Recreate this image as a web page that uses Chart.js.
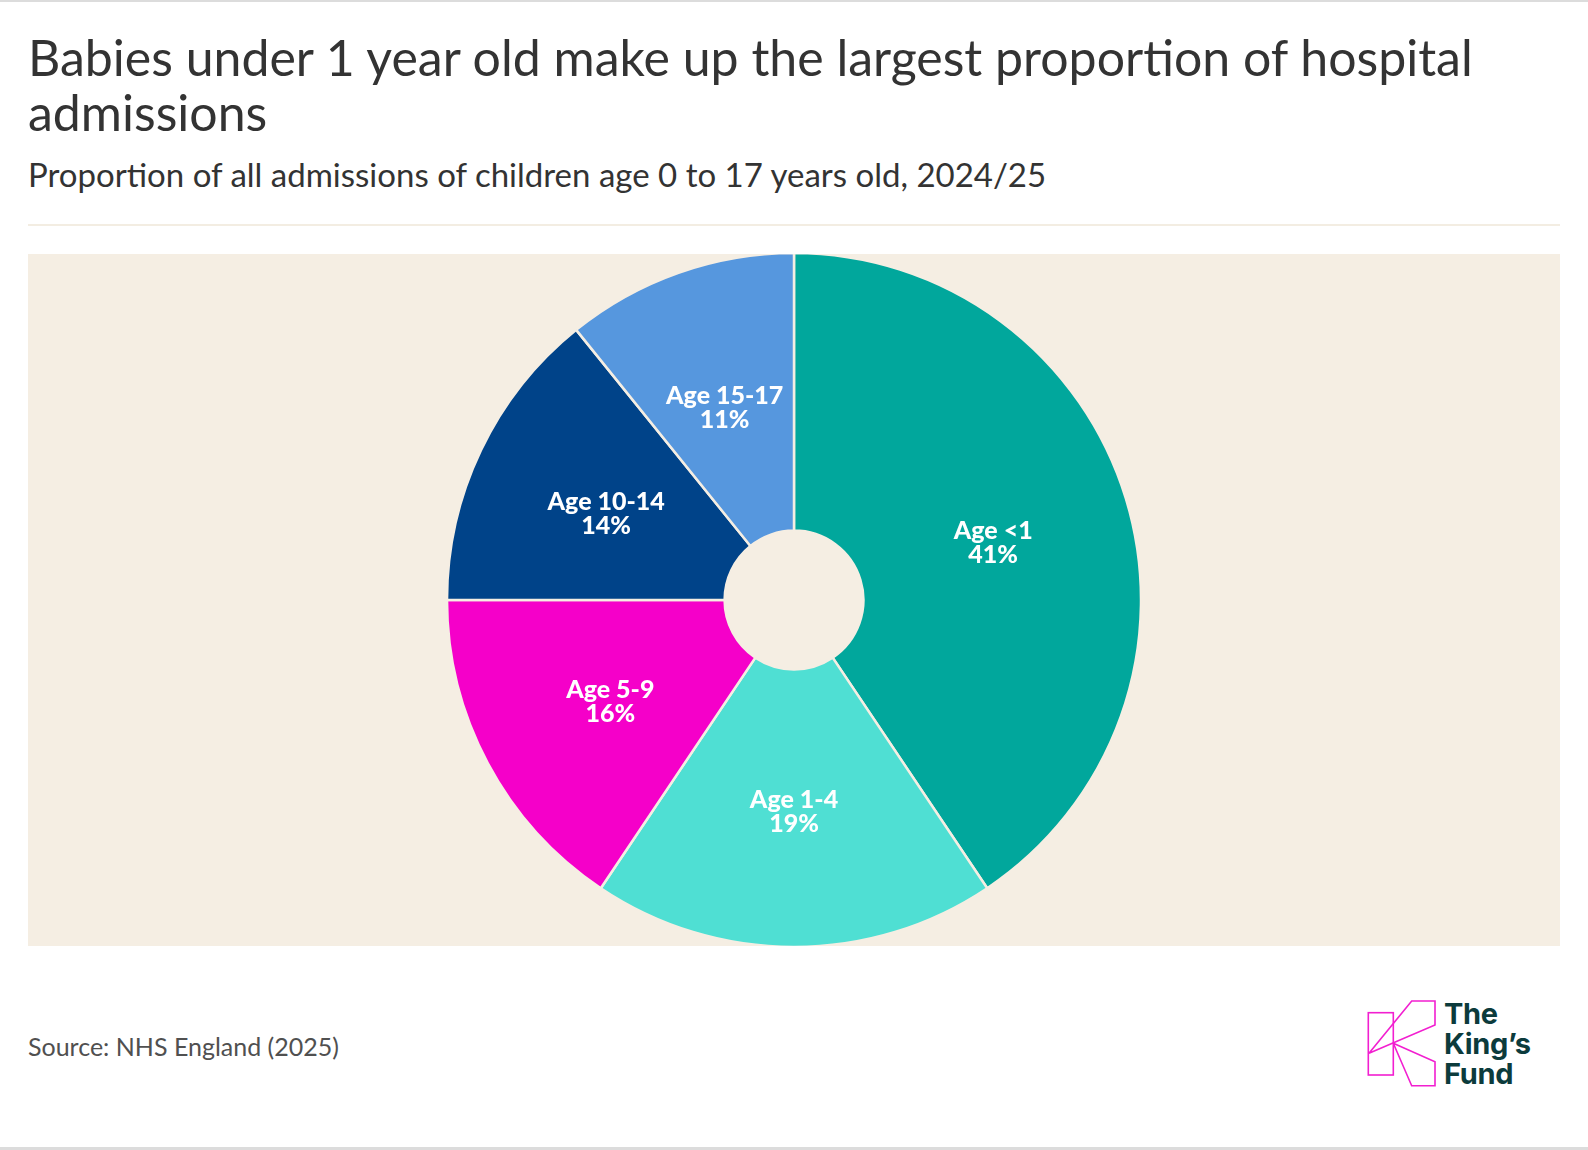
<!DOCTYPE html>
<html>
<head>
<meta charset="utf-8">
<script src="https://cdn.jsdelivr.net/npm/chart.js@4.4.1/dist/chart.umd.min.js"></script>
<style>
  html, body { margin: 0; padding: 0; background: #fff; }
  body { width: 1588px; height: 1150px; position: relative; overflow: hidden; font-family: Lato, "Noto Sans", sans-serif; }
  .topline { position: absolute; left: 0; top: 0; width: 1588px; height: 2px; background: #dcdcdc; }
  .bottomline { position: absolute; left: 0; top: 1147px; width: 1588px; height: 3px; background: #dcdcdc; }
  h1 { position: absolute; left: 28px; top: 30px; width: 1540px; margin: 0; font-weight: 400; font-size: 50px; line-height: 55px; color: #333; }
  .sub { position: absolute; left: 28px; top: 154px; margin: 0; font-size: 33px; color: #333; white-space: nowrap; }
  .divider { position: absolute; left: 28px; top: 224px; width: 1532px; height: 2px; background: #f3ede2; }
  .chartbox { position: absolute; left: 28px; top: 254px; width: 1532px; height: 692px; background: #f5eee3; }
  .source { position: absolute; left: 28px; top: 1031px; font-size: 25px; color: #505050; white-space: nowrap; }
  .logo { position: absolute; left: 1360px; top: 995px; }
  .logo-text { position: absolute; left: 1444px; top: 999px; font-family: Inter, Lato, sans-serif; font-weight: 700; font-size: 29px; line-height: 30px; color: #0c3b3c; letter-spacing: -0.3px; }
</style>
</head>
<body>
<div class="topline"></div>
<h1>Babies under 1 year old make up the largest proportion of hospital admissions</h1>
<div class="sub">Proportion of all admissions of children age 0 to 17 years old, 2024/25</div>
<div class="divider"></div>
<div class="chartbox"><canvas id="chart-div"></canvas></div>
<div class="source">Source: NHS England (2025)</div>
<svg class="logo" width="80" height="100" viewBox="0 0 80 100">
  <g fill="none" stroke="#f21fd0" stroke-width="1.6" stroke-linejoin="miter">
    <rect x="8.3" y="17.7" width="25" height="62.3"/>
    <polyline points="9,58.3 51.7,6 75,6 75,30 9,58.3"/>
    <polyline points="33.3,48.3 75,66.7 75,90.7 51.7,90.7 33.3,48.3"/>
  </g>
</svg>
<div class="logo-text">The<br>King’s<br>Fund</div>
<div class="bottomline"></div>

<script>
var categorias = ['Age <1', 'Age 1-4', 'Age 5-9', 'Age 10-14', 'Age 15-17'];
var proporcoes = [40.6, 18.8, 15.6, 14.2, 10.8];
var rotulos = ['41%', '19%', '16%', '14%', '11%'];
var cores = ['#01a79c', '#4fdfd3', '#f500c9', '#004389', '#5697de'];

var fundo = '#f5eee3';

// escreve "Age x" + percentual no meio de cada fatia
var rotulosPlugin = {
    id: 'rotulosFatia',
    afterDatasetsDraw: function (chart) {
        var ctx = chart.ctx;
        var meta = chart.getDatasetMeta(0);
        ctx.save();
        ctx.fillStyle = '#ffffff';
        ctx.textAlign = 'center';
        ctx.textBaseline = 'middle';
        ctx.font = '900 25px Lato';
        meta.data.forEach(function (arc, i) {
            var p = arc.getCenterPoint();
            ctx.fillText(categorias[i], p.x, p.y - 8);
            ctx.fillText(rotulos[i], p.x, p.y + 16);
        });
        ctx.restore();
    }
};

var ctx = document.getElementById('chart-div').getContext('2d');
var chart = new Chart(ctx, {
    type: 'doughnut',
    data: {
        labels: categorias,
        datasets: [{
            data: proporcoes,
            backgroundColor: cores,
            borderColor: fundo,
            borderWidth: 2.5
        }]
    },
    options: {
        responsive: true,
        maintainAspectRatio: false,
        animation: false,
        radius: 347,
        cutout: '20%',
        layout: { padding: 0 },
        plugins: {
            legend: { display: false },
            tooltip: { enabled: false },
            title: { display: false }
        }
    },
    plugins: [rotulosPlugin]
});
</script>
</body>
</html>
